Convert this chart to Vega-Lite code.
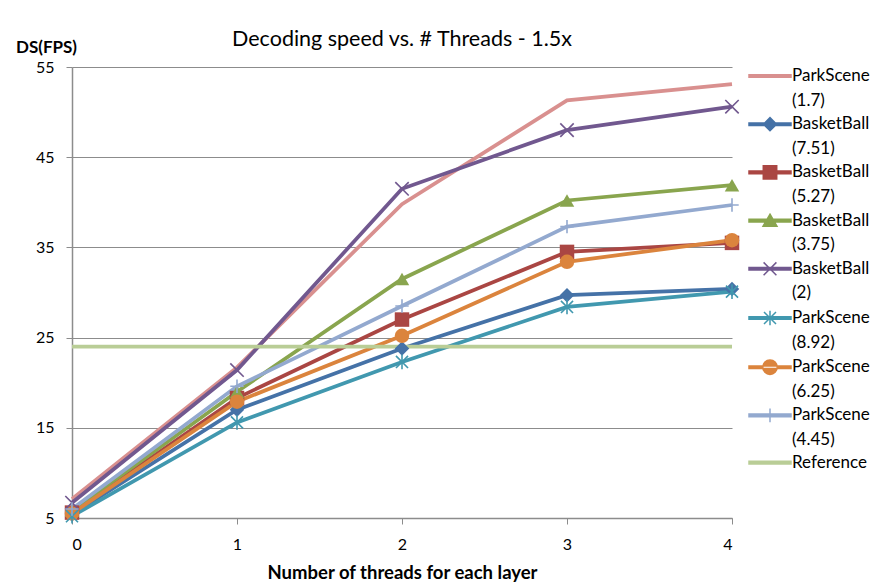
{
  "$schema": "https://vega.github.io/schema/vega-lite/v6.json",
  "autosize": {"type": "none"},
  "width": 660,
  "height": 451,
  "padding": {"left": 72, "top": 67, "right": 149, "bottom": 66},
  "background": "#ffffff",
  "title": {"text": "Decoding speed vs. # Threads - 1.5x", "font": "Lato", "fontSize": 21.5, "fontWeight": "normal", "color": "#000000", "anchor": "middle", "frame": "group", "dy": 16},
  "config": {
    "view": {"stroke": null},
    "axis": {"labelFont": "Lato", "labelFontSize": 16, "labelColor": "#000000", "titleFont": "Lato", "titleColor": "#000000", "titleFontWeight": "bold", "domainColor": "#8c8c8c", "domainWidth": 1.5, "tickColor": "#8c8c8c", "tickSize": 6, "gridColor": "#8c8c8c", "gridWidth": 1}
  },
  "data": {"values": [
    {"series": "ParkScene (1.7)", "threads": 0, "fps": 7.1},
    {"series": "ParkScene (1.7)", "threads": 1, "fps": 21.7},
    {"series": "ParkScene (1.7)", "threads": 2, "fps": 39.8},
    {"series": "ParkScene (1.7)", "threads": 3, "fps": 51.3},
    {"series": "ParkScene (1.7)", "threads": 4, "fps": 53.1},
    {"series": "BasketBall (7.51)", "threads": 0, "fps": 5.4},
    {"series": "BasketBall (7.51)", "threads": 1, "fps": 17.0},
    {"series": "BasketBall (7.51)", "threads": 2, "fps": 23.8},
    {"series": "BasketBall (7.51)", "threads": 3, "fps": 29.7},
    {"series": "BasketBall (7.51)", "threads": 4, "fps": 30.4},
    {"series": "BasketBall (5.27)", "threads": 0, "fps": 5.6},
    {"series": "BasketBall (5.27)", "threads": 1, "fps": 18.3},
    {"series": "BasketBall (5.27)", "threads": 2, "fps": 27.0},
    {"series": "BasketBall (5.27)", "threads": 3, "fps": 34.5},
    {"series": "BasketBall (5.27)", "threads": 4, "fps": 35.5},
    {"series": "BasketBall (3.75)", "threads": 0, "fps": 5.8},
    {"series": "BasketBall (3.75)", "threads": 1, "fps": 19.0},
    {"series": "BasketBall (3.75)", "threads": 2, "fps": 31.5},
    {"series": "BasketBall (3.75)", "threads": 3, "fps": 40.2},
    {"series": "BasketBall (3.75)", "threads": 4, "fps": 41.9},
    {"series": "BasketBall (2)", "threads": 0, "fps": 6.7},
    {"series": "BasketBall (2)", "threads": 1, "fps": 21.4},
    {"series": "BasketBall (2)", "threads": 2, "fps": 41.5},
    {"series": "BasketBall (2)", "threads": 3, "fps": 48.0},
    {"series": "BasketBall (2)", "threads": 4, "fps": 50.6},
    {"series": "ParkScene (8.92)", "threads": 0, "fps": 5.2},
    {"series": "ParkScene (8.92)", "threads": 1, "fps": 15.6},
    {"series": "ParkScene (8.92)", "threads": 2, "fps": 22.3},
    {"series": "ParkScene (8.92)", "threads": 3, "fps": 28.4},
    {"series": "ParkScene (8.92)", "threads": 4, "fps": 30.1},
    {"series": "ParkScene (6.25)", "threads": 0, "fps": 5.5},
    {"series": "ParkScene (6.25)", "threads": 1, "fps": 17.9},
    {"series": "ParkScene (6.25)", "threads": 2, "fps": 25.2},
    {"series": "ParkScene (6.25)", "threads": 3, "fps": 33.4},
    {"series": "ParkScene (6.25)", "threads": 4, "fps": 35.8},
    {"series": "ParkScene (4.45)", "threads": 0, "fps": 6.0},
    {"series": "ParkScene (4.45)", "threads": 1, "fps": 19.6},
    {"series": "ParkScene (4.45)", "threads": 2, "fps": 28.5},
    {"series": "ParkScene (4.45)", "threads": 3, "fps": 37.3},
    {"series": "ParkScene (4.45)", "threads": 4, "fps": 39.7},
    {"series": "Reference", "threads": 0, "fps": 24},
    {"series": "Reference", "threads": 1, "fps": 24},
    {"series": "Reference", "threads": 2, "fps": 24},
    {"series": "Reference", "threads": 3, "fps": 24},
    {"series": "Reference", "threads": 4, "fps": 24}
  ]},
  "encoding": {
    "x": {"field": "threads", "type": "quantitative", "scale": {"domain": [0, 4], "nice": false, "zero": false},
      "axis": {"values": [0, 1, 2, 3, 4], "format": "d", "grid": false, "labelPadding": 12, "title": "Number of threads for each layer", "titleFontSize": 18.5, "titleY": 54, "titleBaseline": "middle"}},
    "y": {"field": "fps", "type": "quantitative", "scale": {"domain": [5, 55], "nice": false, "zero": false},
      "axis": {"values": [5, 15, 25, 35, 45, 55], "grid": true, "labelPadding": 12, "title": "DS(FPS)", "titleFontSize": 17, "titleAngle": 0, "titleX": -26, "titleY": -20, "titleAlign": "center", "titleBaseline": "middle"}}
  },
  "layer": [
    {
      "mark": {"type": "line", "strokeWidth": 3.75, "clip": false},
      "encoding": {
        "color": {"field": "series", "type": "nominal",
          "scale": {"domain": ["ParkScene (1.7)", "BasketBall (7.51)", "BasketBall (5.27)", "BasketBall (3.75)", "BasketBall (2)", "ParkScene (8.92)", "ParkScene (6.25)", "ParkScene (4.45)", "Reference"],
            "range": ["#d9908f", "#4572a7", "#aa4643", "#89a54e", "#71588f", "#4198af", "#db843d", "#93a9cf", "#b9cd96"]},
          "legend": {"orient": "none", "legendX": 689, "legendY": 0, "padding": 0, "title": null, "symbolSize": 256, "symbolStrokeWidth": 1.5, "labelFont": "Lato", "labelFontSize": 17, "labelColor": "#000000", "labelOffset": 13, "labelLimit": 0, "rowPadding": 5.2,
            "labelExpr": "split(datum.label, ' ')",
            "encode": {
              "symbols": {"update": {
                "shape": {"signal": "datum.value == 'BasketBall (7.51)' ? 'M-2.625,-0.16L2.625,-0.16L2.625,0.16L-2.625,0.16ZM-0.82,0L0,-0.82L0.82,0L0,0.82Z' : datum.value == 'BasketBall (5.27)' ? 'M-2.625,-0.16L2.625,-0.16L2.625,0.16L-2.625,0.16ZM-0.84,-0.84L0.84,-0.84L0.84,0.84L-0.84,0.84Z' : datum.value == 'BasketBall (3.75)' ? 'M-2.625,-0.16L2.625,-0.16L2.625,0.16L-2.625,0.16ZM0,-0.8L0.87,0.7L-0.87,0.7Z' : datum.value == 'BasketBall (2)' ? 'M-2.625,-0.16L2.625,-0.16L2.625,0.16L-2.625,0.16ZM-0.8,-0.8L0.8,0.8M-0.8,0.8L0.8,-0.8' : datum.value == 'ParkScene (8.92)' ? 'M-2.625,-0.16L2.625,-0.16L2.625,0.16L-2.625,0.16ZM-0.75,-0.75L0.75,0.75M-0.75,0.75L0.75,-0.75M0,-0.9L0,0.9' : datum.value == 'ParkScene (6.25)' ? 'M-2.625,-0.16L2.625,-0.16L2.625,0.16L-2.625,0.16ZM-0.9,0A0.9,0.9 0 1,0 0.9,0A0.9,0.9 0 1,0 -0.9,0Z' : datum.value == 'ParkScene (4.45)' ? 'M-2.625,-0.16L2.625,-0.16L2.625,0.16L-2.625,0.16ZM0,-0.85L0,0.85' : 'M-2.625,-0.16L2.625,-0.16L2.625,0.16L-2.625,0.16Z'"},
                "fill": {"scale": "color", "field": "value"},
                "stroke": {"scale": "color", "field": "value"},
                "strokeWidth": {"value": 1.5},
                "opacity": {"value": 1}
              }},
              "labels": {"update": {"lineHeight": {"value": 24.5}}}
            }
          }
        }
      }
    },
    {
      "transform": [{"filter": {"field": "series", "oneOf": ["BasketBall (7.51)", "BasketBall (5.27)", "BasketBall (3.75)", "ParkScene (6.25)"]}}],
      "mark": {"type": "point", "filled": true, "opacity": 1, "clip": false},
      "encoding": {
        "color": {"field": "series", "type": "nominal", "legend": null},
        "shape": {"field": "series", "type": "nominal", "legend": null,
          "scale": {"domain": ["BasketBall (7.51)", "BasketBall (5.27)", "BasketBall (3.75)", "BasketBall (2)", "ParkScene (8.92)", "ParkScene (6.25)", "ParkScene (4.45)"],
            "range": ["M-1,0L0,-1L1,0L0,1Z", "square", "triangle-up", "M-1,-1L1,1M-1,1L1,-1", "M-0.9,-0.9L0.9,0.9M-0.9,0.9L0.9,-0.9M0,-1.1L0,1.1", "circle", "M-1,0L1,0M0,-1L0,1"]}},
        "size": {"value": 210}
      }
    },
    {
      "transform": [{"filter": {"field": "series", "oneOf": ["BasketBall (2)", "ParkScene (8.92)", "ParkScene (4.45)"]}}],
      "mark": {"type": "point", "filled": false, "strokeWidth": 1.6, "opacity": 1, "clip": false},
      "encoding": {
        "color": {"field": "series", "type": "nominal", "legend": null},
        "shape": {"field": "series", "type": "nominal", "legend": null,
          "scale": {"domain": ["BasketBall (7.51)", "BasketBall (5.27)", "BasketBall (3.75)", "BasketBall (2)", "ParkScene (8.92)", "ParkScene (6.25)", "ParkScene (4.45)"],
            "range": ["M-1,0L0,-1L1,0L0,1Z", "square", "triangle-up", "M-1,-1L1,1M-1,1L1,-1", "M-0.9,-0.9L0.9,0.9M-0.9,0.9L0.9,-0.9M0,-1.1L0,1.1", "circle", "M-1,0L1,0M0,-1L0,1"]}},
        "size": {"value": 180}
      }
    }
  ]
}
